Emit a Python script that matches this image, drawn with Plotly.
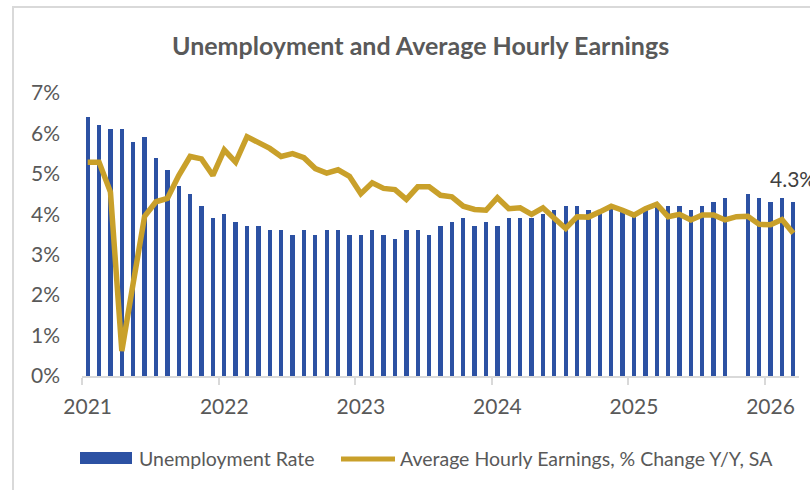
import plotly.graph_objects as go

# ---------------- data ----------------
months = [f"{y}-{m:02d}" for y in range(2021, 2027) for m in range(1, 13)][:63]

unemployment_rate = [
    6.4, 6.2, 6.1, 6.1, 5.8, 5.9, 5.4, 5.1, 4.7, 4.5, 4.2, 3.9,   # 2021
    4.0, 3.8, 3.7, 3.7, 3.6, 3.6, 3.5, 3.6, 3.5, 3.6, 3.6, 3.5,   # 2022
    3.5, 3.6, 3.5, 3.4, 3.6, 3.6, 3.5, 3.7, 3.8, 3.9, 3.7, 3.8,   # 2023
    3.7, 3.9, 3.9, 3.9, 4.0, 4.1, 4.2, 4.2, 4.1, 4.1, 4.2, 4.1,   # 2024
    4.0, 4.1, 4.2, 4.2, 4.2, 4.1, 4.2, 4.3, 4.4, None, 4.5, 4.4,  # 2025
    4.3, 4.4, 4.3,                                                # 2026
]

ahe_yoy = [
    5.29, 5.29, 4.55, 0.62, 2.30, 3.95, 4.31, 4.39, 4.96, 5.43, 5.37, 4.96,  # 2021
    5.59, 5.29, 5.92, 5.76, 5.63, 5.43, 5.50, 5.40, 5.13, 5.02, 5.10, 4.94,  # 2022
    4.51, 4.78, 4.64, 4.61, 4.37, 4.68, 4.68, 4.47, 4.43, 4.20, 4.12, 4.10,  # 2023
    4.41, 4.14, 4.16, 4.00, 4.16, 3.90, 3.65, 3.94, 3.93, 4.06, 4.20, 4.10,  # 2024
    3.98, 4.14, 4.25, 3.94, 4.00, 3.86, 3.98, 3.98, 3.86, 3.94, 3.95, 3.75,  # 2025
    3.74, 3.87, 3.53,                                                        # 2026
]

year_labels = ["2021", "2022", "2023", "2024", "2025", "2026"]

title_text = "Unemployment and Average Hourly Earnings"
series_names = ["Unemployment Rate", "Average Hourly Earnings, % Change Y/Y, SA"]

# ---------------- styling ----------------
FONT = "Lato"
BLUE = "#2C51A3"
GOLD = "#C9A02A"
TXT = "#595959"
GRAY = "#D9D9D9"

W, H = 810, 490
L, R, T, B = 82, 11, 93, 114
PW, PH = W - L - R, H - T - B


def px(x):
    return (x - L) / PW


def py(y):
    return (H - B - y) / PH


x_idx = list(range(len(months)))
jan_idx = [i for i, m in enumerate(months) if m.endswith("-01")]
boundaries = [i - 0.5 for i in jan_idx]

fig = go.Figure()
fig.add_trace(go.Bar(
    x=x_idx, y=unemployment_rate, name=series_names[0],
    marker=dict(color=BLUE, line=dict(width=0)), width=0.38,
    showlegend=False,
))
fig.add_trace(go.Scatter(
    x=x_idx, y=ahe_yoy, name=series_names[1], mode="lines",
    line=dict(color=GOLD, width=5.5), showlegend=False,
))

last_i = max(i for i, v in enumerate(unemployment_rate) if v is not None)

annotations = [
    dict(xref="paper", yref="paper", x=px(420), y=py(45), text=f"<b>{title_text}</b>",
         showarrow=False, xanchor="center", yanchor="middle",
         font=dict(family=FONT, size=25, color=TXT)),
    dict(x=x_idx[last_i], y=unemployment_rate[last_i], text=f"{unemployment_rate[last_i]:.1f}%",
         showarrow=False, xanchor="center", yanchor="middle", yshift=24,
         font=dict(family=FONT, size=21, color="#404040")),
    dict(xref="paper", yref="paper", x=px(137), y=py(458), text=series_names[0],
         showarrow=False, xanchor="left", yanchor="middle",
         font=dict(family=FONT, size=19.5, color=TXT)),
    dict(xref="paper", yref="paper", x=px(398), y=py(458), text=series_names[1],
         showarrow=False, xanchor="left", yanchor="middle",
         font=dict(family=FONT, size=19.5, color=TXT)),
]

shapes = [
    # outer chart border
    dict(type="rect", xref="paper", yref="paper", x0=px(13), x1=px(830), y0=py(7), y1=py(520),
         line=dict(color=GRAY, width=2), fillcolor="rgba(0,0,0,0)", layer="below"),
    # legend swatches
    dict(type="rect", xref="paper", yref="paper", x0=px(80), x1=px(132), y0=py(464), y1=py(452),
         line=dict(width=0), fillcolor=BLUE),
    dict(type="line", xref="paper", yref="paper", x0=px(341), x1=px(395), y0=py(459), y1=py(459),
         line=dict(color=GOLD, width=5)),
]

fig.update_layout(
    width=W, height=H,
    margin=dict(l=L, r=R, t=T, b=B, pad=0),
    paper_bgcolor="white", plot_bgcolor="white",
    bargap=0,
    annotations=annotations, shapes=shapes,
    font=dict(family=FONT, color=TXT),
)
fig.update_xaxes(
    range=[-0.5, len(months) - 0.5],
    tickmode="array", tickvals=jan_idx, ticktext=year_labels,
    ticks="", showgrid=False, zeroline=False,
    showline=True, linecolor=GRAY, linewidth=2,
    tickfont=dict(family=FONT, size=21, color=TXT),
    ticklabelstandoff=11,
    minor=dict(tickmode="array", tickvals=boundaries, ticks="outside", ticklen=7,
               tickwidth=2, tickcolor=GRAY, showgrid=False),
)
fig.update_yaxes(
    range=[0, 7], dtick=1, ticksuffix="%",
    showgrid=False, zeroline=False, showline=False, ticks="",
    tickfont=dict(family=FONT, size=21, color=TXT),
    ticklabelstandoff=21,
)

fig.write_html("out.html")
